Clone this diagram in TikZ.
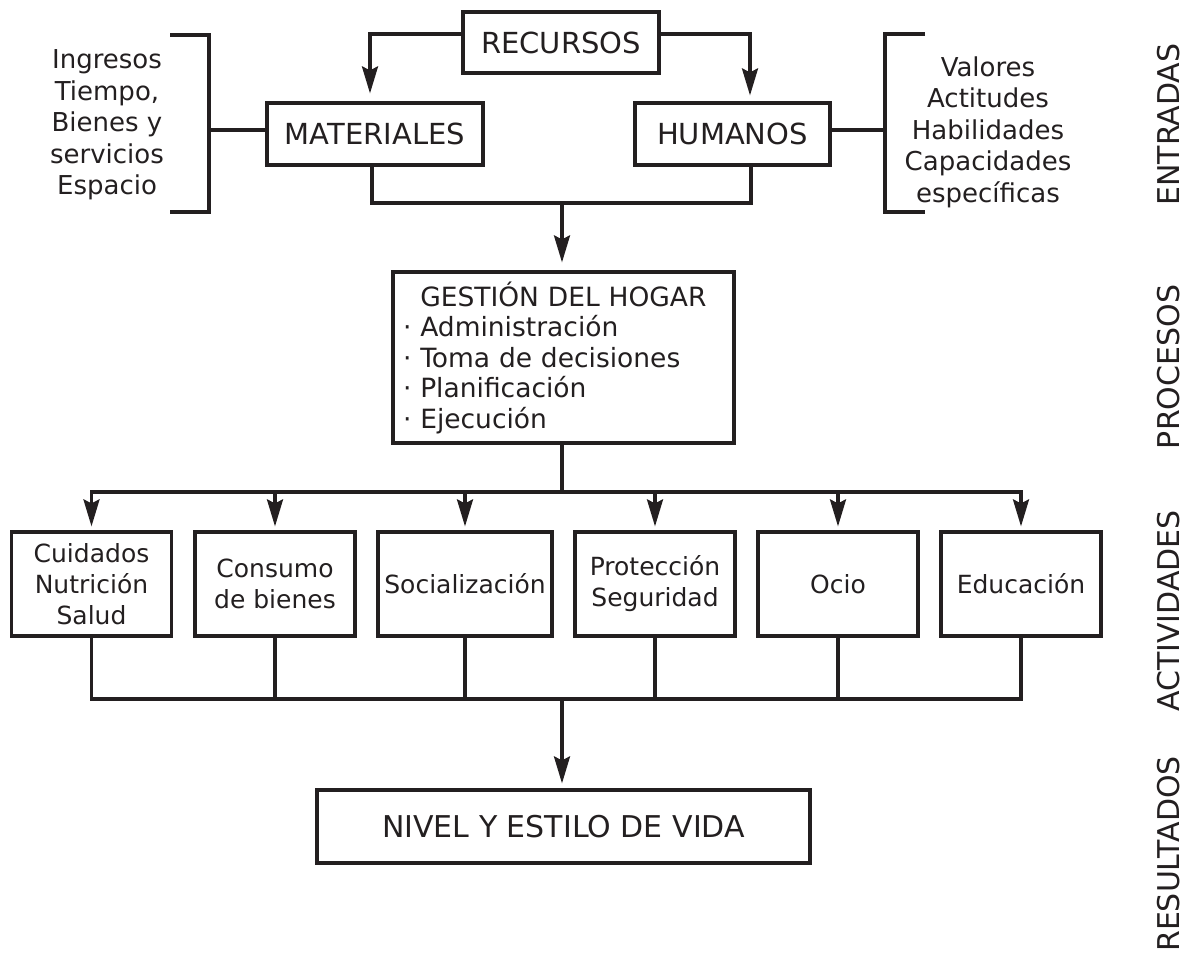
\documentclass[tikz,border=0pt]{standalone}
\usepackage{fontspec}
\setmainfont{DejaVu Sans}
\usetikzlibrary{arrows.meta}
\definecolor{ink}{RGB}{35,31,32}
\begin{document}
\begin{tikzpicture}[x=1pt,y=-1pt,
  conn/.style={draw=ink, line width=3.2pt, line cap=rect},
  arr/.style={conn, -{Stealth[length=27pt,width=16pt,inset=4pt]}},
  box/.style={draw=ink, line width=3.2pt, inner sep=0pt, text=ink, align=center},
  big/.style={box, font=\fontsize{29}{34}\selectfont},
  act/.style={box, minimum height=104pt, font=\fontsize{25}{31}\selectfont},
  side/.style={align=center, inner sep=0pt, text=ink, font=\fontsize{26}{31.5}\selectfont},
  stage/.style={rotate=90, inner sep=0pt, text=ink, font=\fontsize{30}{36}\selectfont}]
\useasboundingbox (0,0) rectangle (1192,954);

% top level
\node[big, minimum width=196pt, minimum height=61pt] (rec) at (561,42.5) {RECURSOS};
\node[big, minimum width=216pt, minimum height=62pt] (mat) at (375,134) {MATERIALES};
\node[big, minimum width=195pt, minimum height=62pt] (hum) at (732.5,134) {HUMANOS};

\coordinate (rl) at (370,34);
\coordinate (rr) at (750,34);
\draw[arr, shorten >=8pt] ([yshift=8.5pt]rec.west) -- (rl) -- (rl |- mat.north);
\draw[arr, shorten >=6pt] ([yshift=8.5pt]rec.east) -- (rr) -- (rr |- hum.north);

% side lists and brackets
\node[side] (ing) at (107,125) {Ingresos\\Tiempo,\\Bienes y\\servicios\\Espacio};
\node[side] (val) at (988,132) {Valores\\Actitudes\\Habilidades\\Capacidades\\específicas};
\draw[conn, line cap=butt] (170,35) -- (209,35) -- (209,212) -- (170,212);
\draw[conn, line cap=butt] (925,34) -- (885,34) -- (885,212) -- (925,212);
\coordinate (lb) at (209,130);
\coordinate (rb) at (885,130);
\draw[conn] (mat.west |- lb) -- (lb);
\draw[conn] (hum.east |- rb) -- (rb);

% gestion
\node[box, text width=321pt, inner xsep=10pt, minimum height=171pt, align=left,
      font=\fontsize{26.5}{30.5}\selectfont] (ges) at (563.5,357.5)
  {\phantom{·} GESTIÓN DEL HOGAR\\· Administración\\· Toma de decisiones\\· Planificación\\· Ejecución};

\coordinate (jm) at (562,203);
\draw[conn] (mat.south -| 372,0) -- (372,203) -- (751,203) -- (hum.south -| 751,0);
\draw[arr, shorten >=8pt] (jm) -- (jm |- ges.north);

% activities
\node[act, minimum width=160pt] (a1) at (91.5,584) {Cuidados\\Nutrición\\Salud};
\node[act, minimum width=160pt] (a2) at (275,584) {Consumo\\de bienes};
\node[act, minimum width=174pt] (a3) at (465,584) {Socialización};
\node[act, minimum width=160pt] (a4) at (655,584) {Protección\\Seguridad};
\node[act, minimum width=160pt] (a5) at (838,584) {Ocio};
\node[act, minimum width=160pt] (a6) at (1021,584) {Educación};

\coordinate (tb) at (562,492);
\draw[arr, shorten >=4pt] (ges.south -| tb) -- (tb) -| (a1.north);
\draw[arr, shorten >=4pt] (tb) -| (a6.north);
\foreach \n in {a2,a3,a4,a5}
  \draw[arr, shorten >=4pt] (\n.north |- tb) -- (\n.north);

\coordinate (bb) at (562,699);
\draw[conn] (a1.south) |- (a6.south |- bb) -- (a6.south);
\foreach \n in {a2,a3,a4,a5}
  \draw[conn] (\n.south) -- (\n.south |- bb);

% result
\node[box, minimum width=493pt, minimum height=73pt, font=\fontsize{30}{36}\selectfont] (niv) at (563.5,826.5) {NIVEL Y ESTILO DE VIDA};
\draw[arr, shorten >=5pt] (bb) -- (bb |- niv.north);

% stage labels
\node[stage] (s1) at (1169,124.5) {ENTRADAS};
\node[stage] (s2) at (1169,367) {PROCESOS};
\node[stage] (s3) at (1169,611) {ACTIVIDADES};
\node[stage] (s4) at (1169,854) {RESULTADOS};
\end{tikzpicture}
\end{document}
